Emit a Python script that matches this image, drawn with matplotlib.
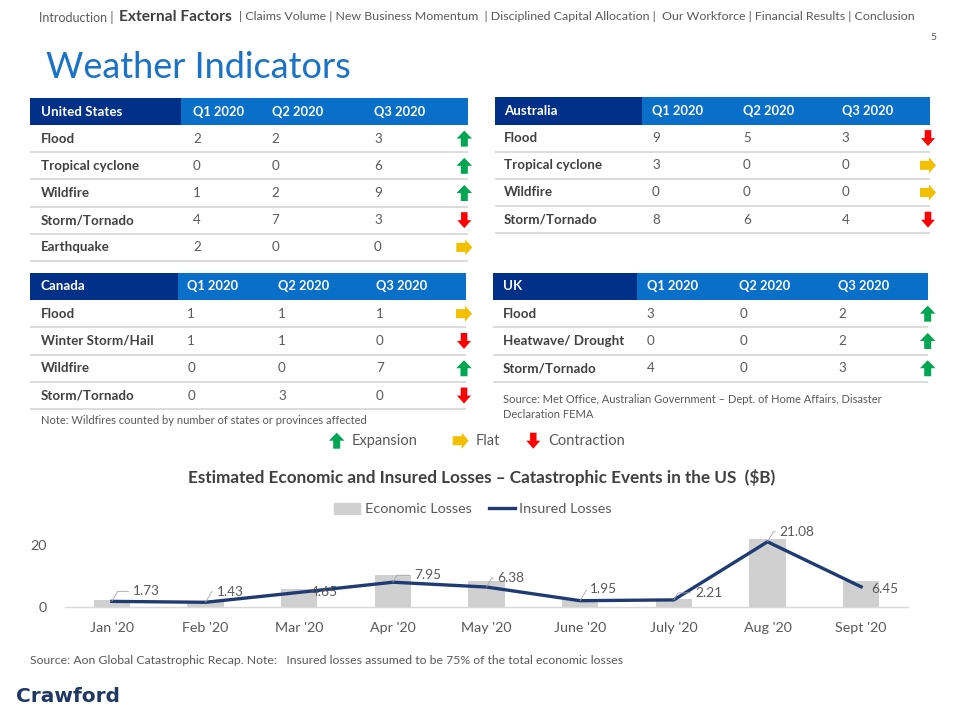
import matplotlib
matplotlib.use('Agg')
import matplotlib.pyplot as plt
from matplotlib.patches import Rectangle, FancyArrow
from matplotlib.lines import Line2D

plt.rcParams['font.family'] = ['Lato', 'DejaVu Sans']

# ---------------- data ----------------
quarters = ['Q1 2020', 'Q2 2020', 'Q3 2020']

us_events = ['Flood', 'Tropical cyclone', 'Wildfire', 'Storm/Tornado', 'Earthquake']
us_q1 = [2, 0, 1, 4, 2]
us_q2 = [2, 0, 2, 7, 0]
us_q3 = [3, 6, 9, 3, 0]

au_events = ['Flood', 'Tropical cyclone', 'Wildfire', 'Storm/Tornado']
au_q1 = [9, 3, 0, 8]
au_q2 = [5, 0, 0, 6]
au_q3 = [3, 0, 0, 4]

ca_events = ['Flood', 'Winter Storm/Hail', 'Wildfire', 'Storm/Tornado']
ca_q1 = [1, 1, 0, 0]
ca_q2 = [1, 1, 0, 3]
ca_q3 = [1, 0, 7, 0]

uk_events = ['Flood', 'Heatwave/ Drought', 'Storm/Tornado']
uk_q1 = [3, 0, 4]
uk_q2 = [0, 0, 0]
uk_q3 = [2, 2, 3]

months = ["Jan '20", "Feb '20", "Mar '20", "Apr '20", "May '20",
          "June '20", "July '20", "Aug '20", "Sept '20"]
economic_losses = [2.3, 1.9, 5.9, 10.4, 8.4, 2.3, 2.6, 22.0, 8.4]
insured_losses = [1.73, 1.43, 4.65, 7.95, 6.38, 1.95, 2.21, 21.08, 6.45]

# ---------------- style ----------------
DARK = '#003087'
LIGHT = '#0A6FC9'
TXT = '#404040'
GRAY = '#595959'
SEP = '#D9D9D9'
GREEN = '#00A651'
RED = '#FF0000'
YELLOW = '#F2C000'
NAVY = '#1F3B73'
TFS = 9.6   # table font size
HFS = 9.3   # table header font size

W, H = 960, 720
fig = plt.figure(figsize=(9.6, 7.2), dpi=100)
bg = fig.add_axes([0, 0, 1, 1])
bg.set_xlim(0, W)
bg.set_ylim(H, 0)
bg.axis('off')


def arrow(ax, x, y, kind):
    if kind == 'up':
        ax.add_patch(FancyArrow(x, y + 8, 0, -16, width=7, head_width=15.5,
                                head_length=8, length_includes_head=True,
                                color=GREEN, lw=0))
    elif kind == 'down':
        ax.add_patch(FancyArrow(x, y - 8, 0, 16, width=6.5, head_width=14,
                                head_length=8, length_includes_head=True,
                                color=RED, lw=0))
    else:
        ax.add_patch(FancyArrow(x - 8, y, 16, 0, width=9, head_width=16,
                                head_length=7, length_includes_head=True,
                                color=YELLOW, lw=0))


def trend(a, b):
    if b > a:
        return 'up'
    if b < a:
        return 'down'
    return 'flat'


def draw_table(x0, x1, xdark, ytop, hh, rh, title, events, q1, q2, q3,
               label_x, col_x, arrow_x):
    bg.add_patch(Rectangle((x0, ytop), xdark - x0, hh, color=DARK, lw=0))
    bg.add_patch(Rectangle((xdark, ytop), x1 - xdark, hh, color=LIGHT, lw=0))
    yc = ytop + hh / 2
    bg.text(label_x, yc, title, color='white', fontsize=TFS, fontweight='bold',
            ha='left', va='center')
    for q, cx in zip(quarters, col_x):
        bg.text(cx, yc, q, color='white', fontsize=HFS, fontweight='bold',
                ha='left', va='center')
    for i, ev in enumerate(events):
        ry = ytop + hh + rh * (i + 0.5)
        bg.text(label_x, ry, ev, color=TXT, fontsize=TFS, fontweight='bold',
                ha='left', va='center')
        for vals, cx in zip((q1, q2, q3), col_x):
            bg.text(cx, ry, str(vals[i]), color=GRAY, fontsize=TFS,
                    ha='left', va='center')
        bg.plot([x0, x1], [ytop + hh + rh * (i + 1)] * 2, color=SEP, lw=1.3,
                solid_capstyle='butt')
        arrow(bg, arrow_x, ry, trend(q2[i], q3[i]))


draw_table(30, 468, 181, 98, 27, 27.2, 'United States', us_events, us_q1, us_q2, us_q3,
           40.7, (193, 271.7, 374), 464.3)
draw_table(495, 930, 642, 97, 27.5, 27.2, 'Australia', au_events, au_q1, au_q2, au_q3,
           504, (652, 743, 841.7), 928)
draw_table(30, 466, 177.7, 273, 27, 27.3, 'Canada', ca_events, ca_q1, ca_q2, ca_q3,
           40.7, (187.3, 278, 376), 464)
draw_table(492.7, 927.7, 636.7, 273, 27, 27.3, 'UK', uk_events, uk_q1, uk_q2, uk_q3,
           502.7, (646.7, 739.3, 838.3), 927.7)

# notes
bg.text(40.7, 420, 'Note: Wildfires counted by number of states or provinces affected',
        color=GRAY, fontsize=8.05, ha='left', va='center')
bg.text(502.7, 399.3, 'Source: Met Office, Australian Government \u2013 Dept. of Home Affairs, Disaster',
        color=GRAY, fontsize=8.0, ha='left', va='center')
bg.text(502.7, 414.3, 'Declaration FEMA', color=GRAY, fontsize=8.0, ha='left', va='center')

# trend legend
for lx, kind, lab in [(336.7, 'up', 'Expansion'), (460.7, 'flat', 'Flat'),
                      (533.3, 'down', 'Contraction')]:
    arrow(bg, lx, 440.7, kind)
    bg.text(lx + 15, 440.7, lab, color=GRAY, fontsize=10.5, ha='left', va='center')

# header / nav
bg.text(38.8, 17, 'Introduction |', color=GRAY, fontsize=9, ha='left', va='center')
bg.text(118.8, 17, 'External Factors', color=TXT, fontsize=11.2, fontweight='bold',
        ha='left', va='center')
bg.text(239, 17, '| Claims Volume | New Business Momentum  | Disciplined Capital Allocation |  '
        'Our Workforce | Financial Results | Conclusion',
        color=GRAY, fontsize=8.95, ha='left', va='center')
bg.text(933, 37, '5', color=GRAY, fontsize=7.5, ha='center', va='center')
bg.text(46, 68, 'Weather Indicators', color='#1A73C6', fontsize=26, ha='left', va='center')

# chart title + source + logo
bg.text(482, 477, 'Estimated Economic and Insured Losses \u2013 Catastrophic Events in the US  ($B)',
        color=TXT, fontsize=12.3, fontweight='bold', ha='center', va='center')
bg.text(30, 661, 'Source: Aon Global Catastrophic Recap. Note:   Insured losses assumed to be 75% '
        'of the total economic losses', color=GRAY, fontsize=8.8, ha='left', va='center')
bg.text(16, 696, 'Crawford', color='#1F3864', fontsize=14.5, fontweight='bold',
        family='DejaVu Sans', ha='left', va='center')

# ---------------- chart ----------------
ax_left, ax_right = 65 / W, 908 / W
ax_bot, ax_top = 1 - 606.7 / H, 1 - 529.7 / H
ax = fig.add_axes([ax_left, ax_bot, ax_right - ax_left, ax_top - ax_bot])
ax.patch.set_alpha(0)
x = list(range(len(months)))
ax.bar(x, economic_losses, width=0.39, color='#D0D0D0', zorder=1,
       label='Economic Losses')
ax.plot(x, insured_losses, color=NAVY, lw=2.4, zorder=3,
        solid_joinstyle='round', label='Insured Losses')
ax.set_xlim(-0.5, len(months) - 0.5)
ax.set_ylim(0, 25)
ax.set_yticks([0, 20])
ax.set_xticks(x)
ax.set_xticklabels(months)
for s in ['top', 'right', 'left']:
    ax.spines[s].set_visible(False)
ax.spines['bottom'].set_color(SEP)
ax.spines['bottom'].set_linewidth(1)
ax.tick_params(axis='both', length=0, colors=GRAY, labelsize=10.3)
ax.tick_params(axis='y', pad=13)
ax.tick_params(axis='x', pad=11)

offsets = [(21, 10), (11, 10.5), (12, 0), (21, 7), (11, 9), (10, 12), (21, 7),
           (12, 10), (10, -2)]
for xi, v, (dx, dy) in zip(x, insured_losses, offsets):
    if dy > 3:
        ax.annotate(f'{v:.2f}', (xi, v), xytext=(dx, dy), textcoords='offset pixels',
                    ha='left', va='center', fontsize=9.8, color=GRAY, zorder=4,
                    arrowprops=dict(arrowstyle='-', color='#A6A6A6', lw=0.6,
                                    shrinkA=1, shrinkB=0, relpos=(0, 0.5),
                                    connectionstyle='angle,angleA=0,angleB=60'))
    else:
        ax.annotate(f'{v:.2f}', (xi, v), xytext=(dx, dy), textcoords='offset pixels',
                    ha='left', va='center', fontsize=9.8, color=GRAY, zorder=4)

leg_handles = [Rectangle((0, 0), 1, 1, color='#D0D0D0'),
               Line2D([0], [0], color=NAVY, lw=2.4)]
fig.legend(leg_handles, ['Economic Losses', 'Insured Losses'], ncol=2,
           loc='center', bbox_to_anchor=(473 / W, 1 - 509 / H), frameon=False,
           fontsize=10.4, labelcolor=GRAY, handlelength=1.8, handleheight=0.8,
           columnspacing=1.2, handletextpad=0.3)

fig.savefig('out.png', dpi=100)
